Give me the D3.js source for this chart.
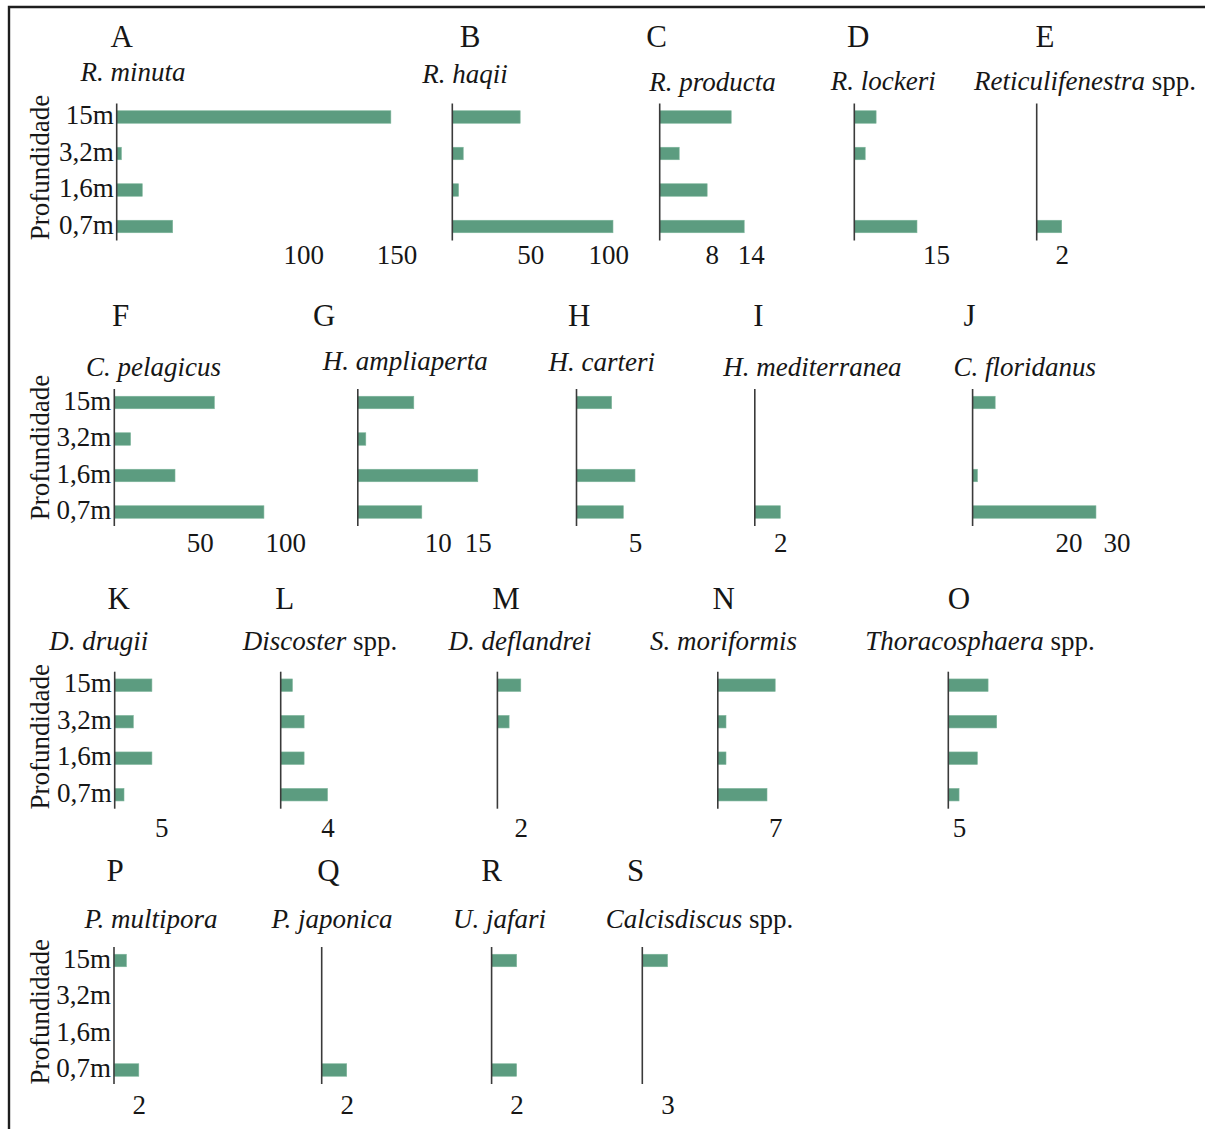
<!DOCTYPE html>
<html><head><meta charset="utf-8">
<script src="https://cdn.jsdelivr.net/npm/d3@7"></script>
<style>
body{margin:0;background:#fff}
svg{display:block}
text{font-family:"Liberation Serif","Times New Roman",serif;fill:#161616}
</style></head>
<body><svg id="chart" width="1205" height="1129"></svg>
<script>
// ---------- data ----------
const depths = ["15m", "3,2m", "1,6m", "0,7m"];
const letters = ["A","B","C","D","E","F","G","H","I","J","K","L","M","N","O","P","Q","R","S"];
const speciesNames = ["R. minuta","R. haqii","R. producta","R. lockeri","Reticulifenestra",
  "C. pelagicus","H. ampliaperta","H. carteri","H. mediterranea","C. floridanus",
  "D. drugii","Discoster","D. deflandrei","S. moriformis","Thoracosphaera",
  "P. multipora","P. japonica","U. jafari","Calcisdiscus"];
const speciesSuffix = ["","","",""," spp.","","","","","",""," spp.","",""," spp.","","",""," spp."];

// counts per depth (15m, 3,2m, 1,6m, 0,7m)
const rMinuta = [147, 2.5, 13.7, 30];
const rHaqii = [43.5, 7, 4, 103];
const rProducta = [11, 3, 7.3, 13];
const rLockeri = [4, 2, 0, 11.5];
const reticulifenestra = [0, 0, 0, 2];
const cPelagicus = [58.5, 9.5, 35.5, 87.5];
const hAmpliaperta = [7, 1, 15, 8];
const hCarteri = [3, 0, 5, 4];
const hMediterranea = [0, 0, 0, 2];
const cFloridanus = [4.7, 0, 1, 25.7];
const dDrugii = [4, 2, 4, 1];
const discoster = [1, 2, 2, 4];
const dDeflandrei = [2, 1, 0, 0];
const sMoriformis = [7, 1, 1, 6];
const thoracosphaera = [18.5, 22.5, 13.5, 5];
const pMultipora = [1, 0, 0, 2];
const pJaponica = [0, 0, 0, 2];
const uJafari = [2, 0, 0, 2];
const calcisdiscus = [3, 0, 0, 0];
const panelValues = [rMinuta, rHaqii, rProducta, rLockeri, reticulifenestra,
  cPelagicus, hAmpliaperta, hCarteri, hMediterranea, cFloridanus,
  dDrugii, discoster, dDeflandrei, sMoriformis, thoracosphaera,
  pMultipora, pJaponica, uJafari, calcisdiscus];

// tick labels per panel
const panelTicks = [[100,150],[50,100],[8,14],[15],[2],
  [50,100],[10,15],[5],[2],[20,30],
  [5],[4],[2],[7],[5],
  [2],[2],[2],[3]];

// ---------- layout ----------
const rows = [
  {top:103.5, letterY:36.7, tickY:255, profY:167.5},
  {top:389,   letterY:315,  tickY:543, profY:447.5},
  {top:671.7, letterY:598,  tickY:828, profY:736.7},
  {top:947,   letterY:870,  tickY:1105, profY:1011.7}
];
// row, axis x, px per unit, letter x, name x, name y
const layout = [
  [0,116.7,1.865,121.7,133,73],[0,452.3,1.56,470,465,75],[0,659.7,6.5,656.7,712.5,83.3],
  [0,854.3,5.45,858.3,883.3,81.7],[0,1036.7,12.5,1045,1085,81.7],
  [1,114.3,1.71,120.6,153.6,368],[1,357.8,8,324.2,405.3,361.7],[1,576.5,11.7,579.3,601.8,363],
  [1,754.8,12.75,758.3,812.4,368],[1,972.6,4.8,969.5,1024.7,368],
  [2,114.7,9.3,118.6,98.8,641.7],[2,280.7,11.7,284.7,320,641.7],[2,497.4,11.7,506,520,641.7],
  [2,717.8,8.2,723.6,723.6,641.7],[2,948.3,2.15,959,980,641.7],
  [3,114,12.4,115,151,920],[3,321.7,12.5,328.5,332,920],[3,491.6,12.5,491.6,499.5,920],
  [3,642.3,8.4,635.5,699.6,920]
];
const barColor = "#5c9c80";
const axisH = 137;

const svg = d3.select("#chart");
svg.append("rect").attr("width",1205).attr("height",1129).attr("fill","#fff");
svg.append("path").attr("d","M9,1129V7H1205").attr("fill","none").attr("stroke","#1e1e1e").attr("stroke-width",2.4);

letters.forEach((L, i) => {
  const [ri, axisX, k, letterX, nameX, nameY] = layout[i];
  const row = rows[ri];
  const vals = panelValues[i];
  const ticks = panelTicks[i];
  const dmax = d3.max([...vals, ...ticks]);
  const x = d3.scaleLinear().domain([0, dmax]).range([axisX, axisX + k * dmax]);
  const y = d3.scalePoint().domain(depths).range([row.top + 13.5, row.top + 123]);
  const g = svg.append("g");

  // letter
  g.append("text").attr("x", letterX).attr("y", row.letterY + 10.5)
    .attr("text-anchor","middle").attr("font-size", 31).text(L);
  // species name
  const t = g.append("text").attr("x", nameX).attr("y", nameY + 8)
    .attr("text-anchor","middle").attr("font-size", 27);
  t.append("tspan").attr("font-style","italic").text(speciesNames[i]);
  if (speciesSuffix[i]) t.append("tspan").text(speciesSuffix[i]);

  // bars
  g.selectAll("rect.bar")
    .data(depths.map((d, j) => ({d, v: vals[j]})).filter(e => e.v > 0))
    .join("rect").attr("class","bar")
    .attr("x", x(0)).attr("y", e => y(e.d) - 6.25)
    .attr("width", e => x(e.v) - x(0)).attr("height", 12.5)
    .attr("fill", barColor).attr("stroke","#7db59a").attr("stroke-width",0.6);

  // vertical axis line
  g.append("line").attr("x1", x(0)).attr("x2", x(0))
    .attr("y1", row.top).attr("y2", row.top + axisH)
    .attr("stroke","#3a3a3a").attr("stroke-width",1.6);

  // x tick labels
  const ax = g.append("g").attr("transform", `translate(0,${row.tickY - 10})`)
    .call(d3.axisBottom(x).tickValues(ticks).tickSize(0).tickPadding(0).tickFormat(d3.format("d")));
  ax.select(".domain").remove();
  ax.attr("font-family", null).attr("font-size", null);
  ax.selectAll("text").attr("font-size", 27).attr("fill","#161616");

  // y labels for the first column
  if (i === 0 || i === 5 || i === 10 || i === 15) {
    const ay = g.append("g").attr("transform", `translate(${x(0)},-2)`)
      .call(d3.axisLeft(y).tickSize(0).tickPadding(3));
    ay.select(".domain").remove();
    ay.attr("font-family", null).attr("font-size", null);
    ay.selectAll("text").attr("font-size", 27).attr("fill","#161616");
    g.append("text").attr("transform", `translate(40,${row.profY}) rotate(-90)`)
      .attr("text-anchor","middle").attr("dominant-baseline","central")
      .attr("font-size", 27).text("Profundidade");
  }
});
</script></body></html>
